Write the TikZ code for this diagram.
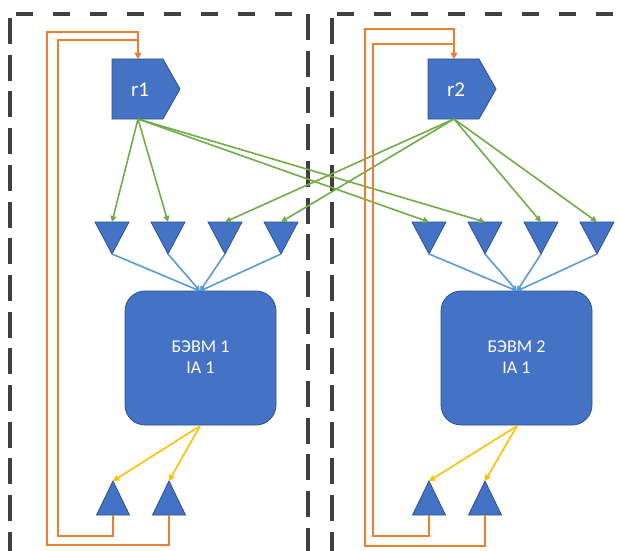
\documentclass[tikz,border=0pt]{standalone}
\usepackage{fontspec}
\setmainfont{Carlito}
\usetikzlibrary{arrows.meta}
\definecolor{shapeblue}{HTML}{4472C4}
\definecolor{shapeedge}{HTML}{2F528F}
\definecolor{linkorange}{HTML}{ED7D31}
\definecolor{linkgreen}{HTML}{70AD47}
\definecolor{linkblue}{HTML}{5B9BD5}
\definecolor{linkyellow}{HTML}{FFC000}
\definecolor{frame}{HTML}{404040}
\tikzset{
  shapefill/.style={fill=shapeblue, draw=shapeedge, line width=0.8pt},
  vframe/.style={draw=frame, line width=3.5pt, dash pattern=on 26pt off 10.7pt},
  hframe/.style={draw=frame, line width=3.5pt, dash pattern=on 17pt off 20pt},
  feed/.style={draw=linkorange, line width=1.8pt, -{Triangle[length=6pt,width=6pt]}},
  fanout/.style={draw=linkgreen, line width=1.6pt, -{Triangle[length=6pt,width=6pt]}},
  fanin/.style={draw=linkblue, line width=1.6pt, -{Triangle[length=5pt,width=5pt]}},
  outlink/.style={draw=linkyellow, line width=1.6pt, -{Triangle[length=6pt,width=6pt]}},
  lbl/.style={text=white, font=\fontsize{18}{21.6}\selectfont, align=center},
}
\begin{document}
\begin{tikzpicture}[x=1pt, y=-1pt]
\useasboundingbox (0,0) rectangle (621,551);
\fill[white] (0,0) rectangle (621,551);

% dashed partition frames
\begin{scope}
\clip (0,0) rectangle (621,551);
\draw[hframe] (16,14) -- (308,14);
\draw[vframe] (10,18) -- (10,600);
\draw[vframe] (308,14) -- (308,600);
\draw[hframe] (337,14) -- (640,14);
\draw[vframe] (332,18) -- (332,600);
\end{scope}

% register shapes
\foreach \n/\x in {1/112, 2/428} {
  \fill[shapefill] (\x,59) -- (\x+51,59) -- (\x+68,89) -- (\x+51,119) -- (\x,119) -- cycle;
}
\node[lbl, font=\fontsize{21}{25}\selectfont] (r1) at (140,90) {r1};
\node[lbl, font=\fontsize{21}{25}\selectfont] (r2) at (456,90) {r2};
\coordinate (r1top) at (138,59);
\coordinate (r1bot) at (138,119);
\coordinate (r2top) at (454,59);
\coordinate (r2bot) at (454,119);

% processing units
\fill[shapefill, rounded corners=20pt] (125,291) rectangle (276,425);
\fill[shapefill, rounded corners=20pt] (441,291) rectangle (592,425);
\node[lbl] (u1) at (200.5,357) {БЭВМ 1\\IA 1};
\node[lbl] (u2) at (516.5,357) {БЭВМ 2\\IA 1};
\coordinate (u1top) at (200,291);
\coordinate (u1bot) at (200,426);
\coordinate (u2top) at (517,291);
\coordinate (u2bot) at (517,426);

% input triangles
\foreach \i/\x in {1/112, 2/168, 3/225, 4/281, 5/429, 6/485, 7/541, 8/597} {
  \fill[shapefill] (\x-17,222) -- (\x+17,222) -- (\x,254) -- cycle;
  \coordinate (in\i) at (\x,222);
  \coordinate (in\i b) at (\x,254);
}

% output triangles
\foreach \i/\x in {1/113, 2/169, 3/429, 4/485} {
  \fill[shapefill] (\x-16.5,515) -- (\x+16.5,515) -- (\x,481) -- cycle;
  \coordinate (out\i) at (\x,481);
  \coordinate (out\i b) at (\x,515);
}

% register fan-out
\foreach \i in {1,2,5,6} \draw[fanout] (r1bot) -- (in\i);
\foreach \i in {3,4,7,8} \draw[fanout] (r2bot) -- (in\i);

% inputs into units
\foreach \i in {1,2,3,4} \draw[fanin] (in\i b) -- (u1top);
\foreach \i in {5,6,7,8} \draw[fanin] (in\i b) -- (u2top);

% unit outputs
\draw[outlink] (u1bot) -- (out1);
\draw[outlink] (u1bot) -- (out2);
\draw[outlink] (u2bot) -- (out3);
\draw[outlink] (u2bot) -- (out4);

% feedback loops to registers
\draw[feed] (out1b) -- (113,536) -- (58,536) -- (58,40) -- (138,40) -- (r1top);
\draw[feed] (out2b) -- (169,545) -- (47,545) -- (47,32) -- (138,32) -- (r1top);
\draw[feed] (out3b) -- (429,536) -- (373,536) -- (373,44) -- (454,44) -- (r2top);
\draw[feed] (out4b) -- (485,546) -- (365,546) -- (365,29) -- (454,29) -- (r2top);
\end{tikzpicture}
\end{document}
